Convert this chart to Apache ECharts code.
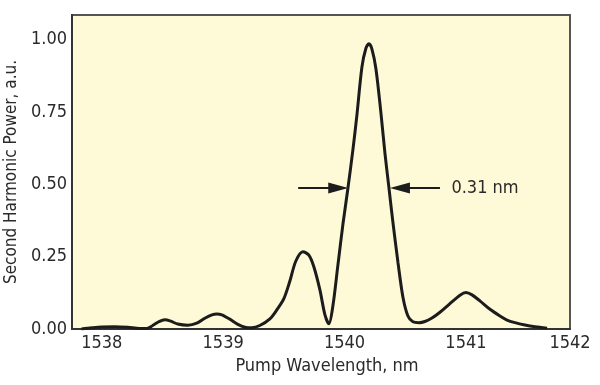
<!DOCTYPE html>
<html>
<head>
<meta charset="utf-8">
<script src="https://cdn.jsdelivr.net/npm/echarts@6/dist/echarts.min.js"></script>
<style>
html,body{margin:0;padding:0;background:#fff;}
#chart{width:600px;height:385px;}
</style>
</head>
<body>
<div id="chart"></div>
<script>
// Pump wavelength (nm)
const wavelength = [
  1537.833, 1537.918, 1538.000, 1538.107, 1538.214, 1538.313, 1538.371, 1538.420,
  1538.470, 1538.519, 1538.569, 1538.626, 1538.709, 1538.783, 1538.849, 1538.907,
  1538.948, 1538.989, 1539.055, 1539.121, 1539.179, 1539.236, 1539.302, 1539.385,
  1539.442, 1539.500, 1539.549, 1539.599, 1539.657, 1539.706, 1539.747, 1539.797,
  1539.838, 1539.871, 1539.904, 1539.945, 1539.986, 1540.028, 1540.069, 1540.102,
  1540.143, 1540.176, 1540.201, 1540.225, 1540.258, 1540.300, 1540.332, 1540.365,
  1540.398, 1540.440, 1540.481, 1540.522, 1540.563, 1540.613, 1540.662, 1540.720,
  1540.786, 1540.868, 1540.951, 1541.000, 1541.050, 1541.115, 1541.198, 1541.280,
  1541.338, 1541.404, 1541.486, 1541.569, 1541.668
];
// Second harmonic power (a.u.)
const power = [
  0.000, 0.004, 0.007, 0.008, 0.006, 0.002, 0.002, 0.012,
  0.025, 0.032, 0.027, 0.017, 0.013, 0.020, 0.037, 0.049,
  0.052, 0.049, 0.034, 0.016, 0.006, 0.004, 0.012, 0.035,
  0.066, 0.105, 0.165, 0.235, 0.267, 0.255, 0.215, 0.135,
  0.050, 0.018, 0.080, 0.220, 0.360, 0.487, 0.620, 0.740,
  0.905, 0.970, 0.986, 0.968, 0.900, 0.745, 0.610, 0.490,
  0.370, 0.230, 0.110, 0.045, 0.025, 0.022, 0.026, 0.038,
  0.058, 0.088, 0.117, 0.126, 0.118, 0.097, 0.068, 0.045,
  0.031, 0.022, 0.014, 0.008, 0.003
];
const xTickValues = [1538, 1539, 1540, 1541, 1542];
const yTickValues = [0, 0.25, 0.5, 0.75, 1.0];
const fwhmLabel = '0.31 nm';

const X_MIN = 1537.755, X_MAX = 1541.857, Y_MAX = 1.085;
const FONT = '"Liberation Sans Narrow", "DejaVu Sans Condensed", "Roboto", sans-serif';
const TEXT = '#2a2a2a';

const seriesData = wavelength.map((w, i) => [w, power[i]]);
// label positions: last tick sits at the plot's right edge
const xLabelPositions = xTickValues.map(v => Math.min(v, X_MAX));

const arrowY = 0.487;
const triPath = 'path://M5,0 L10,20 L0,20 Z';

const chart = echarts.init(document.getElementById('chart'), null, {renderer: 'canvas'});
chart.setOption({
  animation: false,
  backgroundColor: '#ffffff',
  grid: {
    left: 72, right: 30, top: 15, bottom: 56,
    outerBoundsMode: 'none', containLabel: false,
    show: true, backgroundColor: '#fef9d6', borderColor: '#555', borderWidth: 2
  },
  xAxis: {
    type: 'value', min: X_MIN, max: X_MAX,
    name: 'Pump Wavelength, nm', nameLocation: 'middle', nameGap: 27,
    nameTextStyle: {fontFamily: FONT, fontSize: 18, color: TEXT, padding: [0, 0, 0, 12]},
    axisLine: {show: true, onZero: false, lineStyle: {color: '#333', width: 2}},
    axisTick: {show: false},
    splitLine: {show: false},
    axisLabel: {
      customValues: xLabelPositions,
      formatter: v => String(Math.round(v)),
      fontFamily: FONT, fontSize: 18, color: TEXT, margin: 5
    }
  },
  yAxis: {
    type: 'value', min: 0, max: Y_MAX,
    name: 'Second Harmonic Power, a.u.', nameLocation: 'middle', nameGap: 45,
    nameTextStyle: {fontFamily: FONT, fontSize: 17, color: TEXT},
    axisLine: {show: true, onZero: false, lineStyle: {color: '#333', width: 2}},
    axisTick: {show: false},
    splitLine: {show: false},
    axisLabel: {
      customValues: yTickValues,
      formatter: v => v.toFixed(2),
      fontFamily: FONT, fontSize: 18, color: TEXT, margin: 5
    }
  },
  series: [{
    type: 'line',
    data: seriesData,
    smooth: 0.3,
    showSymbol: false,
    symbol: 'none',
    lineStyle: {color: '#1c1c1c', width: 3},
    markLine: {
      silent: true,
      animation: false,
      lineStyle: {color: '#1c1c1c', width: 2, type: 'solid'},
      label: {show: false},
      data: [
        [{coord: [1539.618, arrowY], symbol: 'none'},
         {coord: [1539.948, arrowY], symbol: triPath, symbolSize: [11, 20]}],
        [{coord: [1540.786, arrowY], symbol: 'none'},
         {coord: [1540.456, arrowY], symbol: triPath, symbolSize: [11, 20]}]
      ]
    },
    markPoint: {
      silent: true,
      symbol: 'circle', symbolSize: 0,
      data: [{coord: [1540.880, arrowY]}],
      label: {
        show: true, position: 'right', distance: 0,
        formatter: fwhmLabel,
        fontFamily: FONT, fontSize: 18, color: TEXT
      }
    }
  }]
});
</script>
</body>
</html>
